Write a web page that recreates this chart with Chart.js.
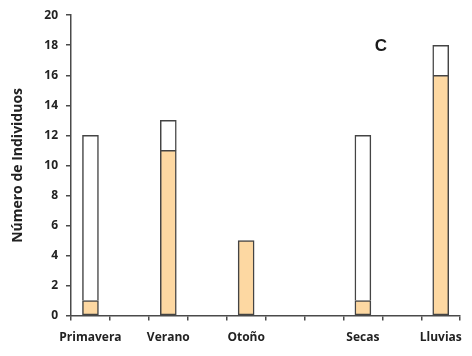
<!DOCTYPE html>
<html>
<head>
<meta charset="utf-8">
<script src="https://cdn.jsdelivr.net/npm/chart.js@4"></script>
<style>
html,body{margin:0;padding:0;background:#fff;}
#wrap{width:472px;height:356px;position:relative;}
</style>
</head>
<body>
<div id="wrap"><canvas id="c" width="472" height="356"></canvas></div>
<script>
const categories = ['Primavera', '', 'Verano', '', 'Otoño', '', '', 'Secas', '', 'Lluvias'];
const lowerValues = [1, null, 11, null, 5, null, null, 1, null, 16];
const upperValues = [11, null, 2, null, null, null, null, 11, null, 2];
const panelLabel = 'C';
const yTitle = 'Número de Individuos';

const labelPlugin = {
  id: 'panelLabel',
  afterDraw(chart) {
    const ctx = chart.ctx;
    ctx.save();
    ctx.font = 'bold 17px "Liberation Sans", Arial, sans-serif';
    ctx.fillStyle = '#1a1a1a';
    ctx.textAlign = 'center';
    ctx.textBaseline = 'middle';
    ctx.fillText(panelLabel, 381, 46);
    ctx.restore();
  }
};

const axisColor = '#4a4a4a';
const tickFont = {family: '"Open Sans", sans-serif', size: 12, weight: 'bold'};

new Chart(document.getElementById('c'), {
  type: 'bar',
  data: {
    labels: categories,
    datasets: [
      {data: lowerValues, backgroundColor: '#fdd8a2', borderColor: '#444', borderWidth: 1.5, borderSkipped: false, barThickness: 16},
      {data: upperValues, backgroundColor: '#ffffff', borderColor: '#444', borderWidth: 1.5, borderSkipped: 'bottom', barThickness: 16}
    ]
  },
  options: {
    responsive: false,
    animation: false,
    layout: {padding: {top: 15, right: 5, bottom: 1, left: 0}},
    plugins: {legend: {display: false}, tooltip: {enabled: false}},
    scales: {
      x: {
        stacked: true,
        grid: {display: true, drawOnChartArea: false, drawTicks: true, tickLength: 5, color: axisColor, lineWidth: 1.5},
        border: {color: axisColor, width: 1.5},
        ticks: {color: '#222', font: tickFont, padding: 10, maxRotation: 0, autoSkip: false}
      },
      y: {
        stacked: true,
        min: 0, max: 20,
        afterFit(scale) { scale.width = 71; },
        grid: {display: true, drawOnChartArea: false, drawTicks: true, tickLength: 5, color: axisColor, lineWidth: 1.5},
        border: {color: axisColor, width: 1.5},
        ticks: {stepSize: 2, color: '#222', font: tickFont, padding: 8},
        title: {display: true, text: yTitle, color: '#222', font: {family: '"Open Sans", sans-serif', size: 14, weight: 'bold'}, padding: {top: 10, bottom: 0}}
      }
    }
  },
  plugins: [labelPlugin]
});
</script>
</body>
</html>
